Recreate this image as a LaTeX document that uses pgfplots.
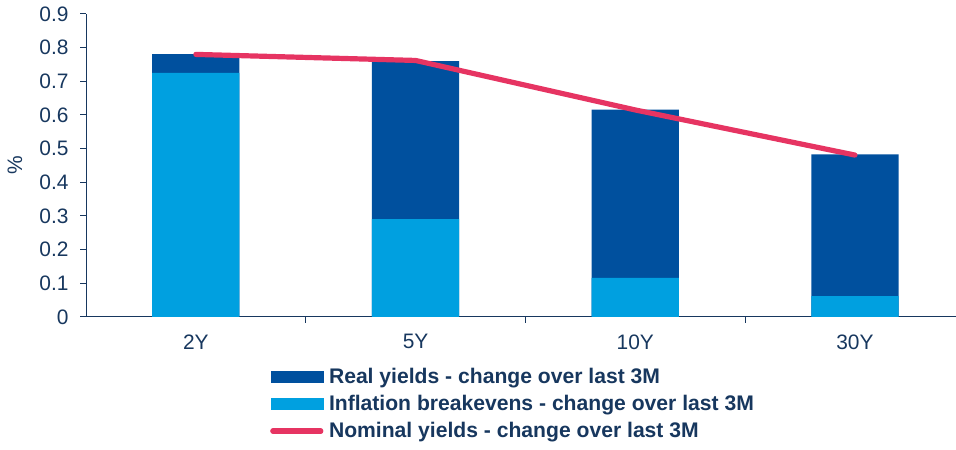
\documentclass[border=0pt]{standalone}
\usepackage{pgfplots}
\pgfplotsset{compat=1.18}
\usepackage{fontspec}
\setmainfont{Liberation Sans}
\definecolor{txt}{HTML}{17375E}
\definecolor{darkb}{HTML}{00509E}
\definecolor{lightb}{HTML}{00A0E0}
\definecolor{nom}{HTML}{E63462}
\begin{document}
\begin{tikzpicture}[x=1bp,y=1bp]
\path[use as bounding box] (0,0) rectangle (956,450);
\begin{axis}[
  at={(86bp,133bp)}, anchor=south west,
  width=870bp, height=303bp, scale only axis,
  xmin=-0.5, xmax=3.46, ymin=0, ymax=0.9,
  axis x line=bottom, axis y line=left,
  axis line style={txt, line width=1bp, -},
  ytick={0,0.1,...,0.9},
  yticklabel style={/pgf/number format/fixed, /pgf/number format/precision=1},
  /pgf/number format/assume math mode=true,
  ytick style={txt, line width=1bp},
  tick align=outside, major tick length=6bp,
  xtick={0.5,1.5,2.5}, xticklabels={},
  xtick style={txt, line width=1bp},
  extra x ticks={0,1,2,3},
  extra x tick labels={2Y,5Y,10Y,30Y},
  extra x tick style={major tick length=0pt, xticklabel style={yshift=-14bp}},
  tick label style={font=\fontsize{21}{24}\selectfont, text=txt},
  yticklabel style={xshift=-8bp},
  ylabel={\%}, ylabel style={font=\fontsize{21}{24}\selectfont, text=txt, at={(axis description cs:-0.0816,0.5)}, anchor=center},
  legend cell align=left,
  legend style={draw=none, fill=none, at={(axis description cs:0.2115,-0.168)}, anchor=north west,
    font=\bfseries\fontsize{21.2}{24}\selectfont, text=txt, inner sep=0pt, row sep=10.5bp,
    nodes={inner sep=0pt, anchor=west}},
]
\addplot[ybar, bar width=0.397, bar shift=0pt, fill=darkb, draw=none, forget plot] coordinates {(0,0.781) (1,0.760) (2,0.616) (3,0.483)};
\addplot[ybar, bar width=0.397, bar shift=0pt, fill=lightb, draw=none, forget plot] coordinates {(0,0.725) (1,0.291) (2,0.116) (3,0.062)};
\addplot[sharp plot, nom, line width=5.2bp, line cap=round, line join=round, forget plot, mark=none] coordinates {(0,0.780) (1,0.762) (2,0.615) (3,0.481)};
\addlegendimage{legend image code/.code={\fill[darkb] (0bp,-5.5bp) rectangle (52bp,5.5bp); \path (58bp,0bp);}}
\addlegendimage{legend image code/.code={\fill[lightb] (0bp,-5.5bp) rectangle (52bp,5.5bp); \path (58bp,0bp);}}
\addlegendimage{legend image code/.code={\draw[nom, line width=5.2bp, line cap=round] (2bp,0bp) -- (50bp,0bp); \path (58bp,0bp);}}
\legend{Real yields - change over last 3M, Inflation breakevens - change over last 3M, Nominal yields - change over last 3M}
\end{axis}
\end{tikzpicture}
\end{document}
